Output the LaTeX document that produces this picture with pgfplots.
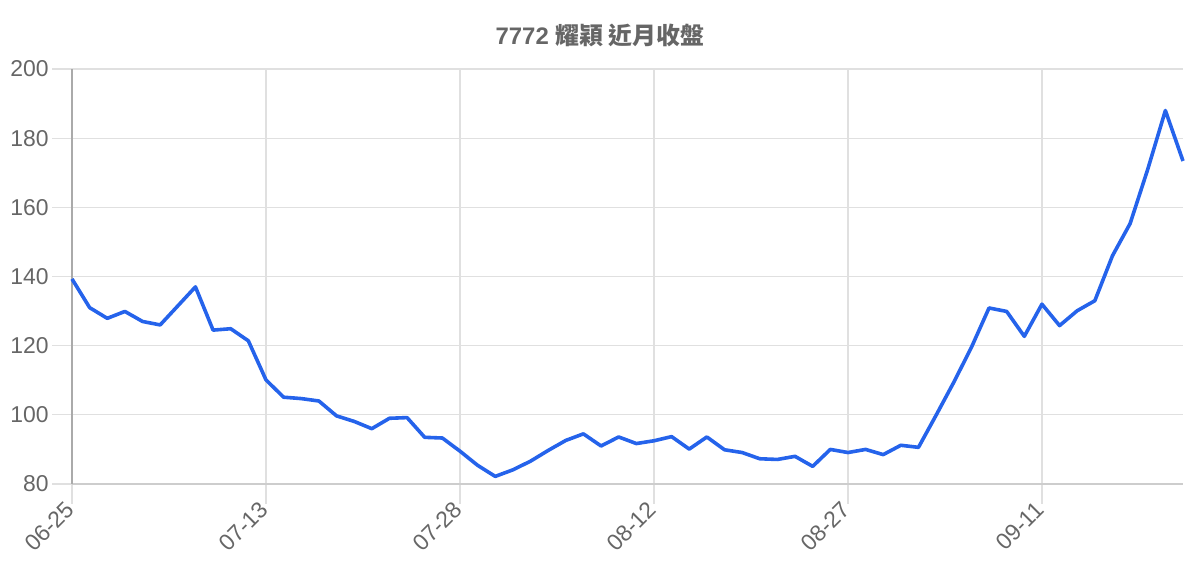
\documentclass[border=0pt]{standalone}
\usepackage{fontspec}
\setmainfont{Liberation Sans}
\newfontfamily\cjk{Noto Sans CJK TC}
\usepackage{pgfplots}
\pgfplotsset{compat=1.18}
\definecolor{lineblue}{HTML}{2563EB}
\definecolor{labelgray}{HTML}{666666}
\definecolor{gridgray}{HTML}{E0E0E0}
\definecolor{axisgray}{HTML}{AAAAAA}

\begin{document}
\begin{tikzpicture}[x=1bp,y=1bp]
\useasboundingbox (0,0) rectangle (600,280);
\node[font=\fontsize{12}{14}\selectfont\bfseries, text=labelgray] at (300,262.5) {7772 {\cjk 耀穎 近月收盤}};
\begin{axis}[
    at={(36bp,38bp)}, anchor=south west,
    scale only axis,
    width=555.5bp, height=207.5bp,
    xmin=0, xmax=63,
    ymin=80, ymax=200,
    xtick={0,11,22,33,44,55},
    xticklabels={06-25,07-13,07-28,08-12,08-27,09-11},
    ytick={80,100,...,200},
    axis lines*=left,
    axis line style={axisgray, line width=0.6bp},
    x axis line style={draw=gridgray!80!gray},
    grid=major,
    grid style={gridgray, line width=0.6bp},
    tick align=outside,
    major tick length=10bp,
    tick style={gridgray, line width=0.6bp},
    ticklabel style={font=\fontsize{11.5}{13}\selectfont, text=labelgray},
    /pgf/number format/assume math mode=true,
    xticklabel style={rotate=45, anchor=east, inner sep=1bp},
    yticklabel style={inner sep=1.5bp},
    clip=false,
]
\addplot[lineblue, line width=1.8bp, mark=none, line join=round] coordinates {
    (0,139.3) (1,131.0) (2,127.9) (3,129.9) (4,127.0) (5,126.0)
    (6,131.5) (7,137.0) (8,124.5) (9,124.9) (10,121.4) (11,110.1)
    (12,105.1) (13,104.7) (14,104.0) (15,99.7) (16,98.1) (17,96.0)
    (18,99.0) (19,99.2) (20,93.5) (21,93.3) (22,89.5) (23,85.4)
    (24,82.2) (25,84.1) (26,86.6) (27,89.7) (28,92.6) (29,94.5)
    (30,91.0) (31,93.6) (32,91.7) (33,92.5) (34,93.7) (35,90.1)
    (36,93.6) (37,89.9) (38,89.1) (39,87.3) (40,87.1) (41,88.0)
    (42,85.1) (43,90.0) (44,89.1) (45,90.0) (46,88.5) (47,91.2)
    (48,90.6) (49,99.9) (50,109.4) (51,119.5) (52,130.9) (53,129.9)
    (54,122.7) (55,132.0) (56,125.8) (57,130.1) (58,133.0) (59,146.0)
    (60,155.3) (61,171.0) (62,188.0) (63,173.4)
};
\end{axis}
\end{tikzpicture}
\end{document}
